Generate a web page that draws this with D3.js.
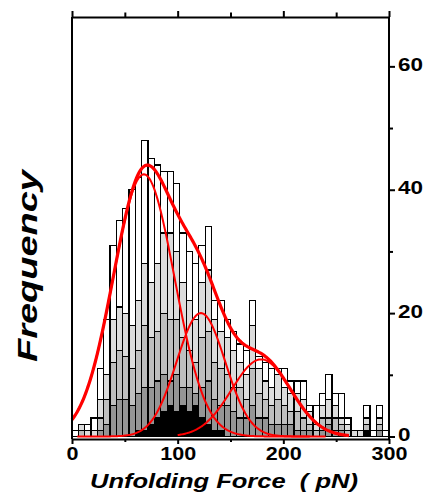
<!DOCTYPE html>
<html>
<head>
<meta charset="utf-8">
<script src="https://cdn.jsdelivr.net/npm/d3@7"></script>
<style>
  body { margin: 0; background: #fff; }
  svg { display: block; }
  .axis path, .axis line { stroke: #000; stroke-width: 2; }
  .axis text { font-family: "Liberation Sans", Arial, sans-serif; font-weight: bold; font-size: 18px; fill: #000; }
</style>
</head>
<body>
<script>
// chart data
var binWidth = 6;
var binLefts = [0, 6, 12, 18, 24, 30, 36, 42, 48, 54, 60, 66, 72, 78, 84, 90, 96, 102, 108, 114,
    120, 126, 132, 138, 144, 150, 156, 162, 168, 174, 180, 186, 192, 198, 204, 210, 216, 222, 228, 234,
    240, 246, 252, 258, 264, 270, 276, 282, 288, 294];

// overlaid histograms, drawn back to front
var totalCounts = [1, 2, 2, 3, 11, 19, 31, 35, 37, 40, 42, 48, 45, 44, 43, 43, 41, 33, 30, 28,
    31, 34, 22, 22, 19, 17, 15, 14, 22, 13, 12, 11, 11, 11, 9, 9, 9, 5, 5, 7,
    10, 7, 7, 3, 1, 1, 5, 1, 5, 1];
var lightCounts = [0, 2, 1, 1, 6, 10, 19, 21, 20, 18, 22, 28, 25, 28, 33, 33, 30, 25, 22, 19,
    25, 27, 19, 17, 16, 14, 12, 10, 18, 11, 9, 8, 10, 8, 7, 7, 6, 4, 2, 5,
    6, 5, 3, 2, 1, 1, 3, 0, 3, 0];
var midCounts = [0, 1, 0, 0, 3, 6, 12, 14, 13, 11, 14, 18, 16, 17, 20, 19, 19, 16, 14, 12,
    16, 17, 12, 11, 10, 8, 8, 6, 11, 7, 6, 5, 6, 5, 4, 4, 3, 2, 1, 3,
    3, 3, 2, 1, 0, 0, 2, 0, 2, 0];
var darkCounts = [0, 0, 0, 0, 1, 2, 5, 6, 6, 5, 7, 8, 8, 9, 10, 9, 10, 8, 8, 7,
    8, 9, 6, 5, 5, 4, 3, 3, 5, 3, 3, 2, 2, 2, 2, 1, 1, 1, 0, 1,
    2, 1, 1, 0, 0, 0, 1, 0, 1, 0];
var blackCounts = [0, 0, 0, 0, 0, 0, 0, 0, 0, 0, 1, 1, 2, 3, 4, 5, 4, 5, 4, 5,
    3, 2, 1, 1, 0, 0, 0, 0, 0, 0, 0, 0, 0, 0, 0, 0, 0, 0, 0, 0,
    0, 0, 0, 0, 0, 0, 1, 0, 0, 0];
var layerFills = ["#ffffff", "#dcdcdc", "#bebebe", "#959595", "#000000"];

// gaussian fit components: peak force, peak height, width
var fitMeans = [68, 122, 179];
var fitHeights = [42.5, 20, 12.5];
var fitWidths = [29, 23, 28];
var fitRanges = [[2, 225], [5, 240], [100, 262]];
var sumRange = [0, 262];

var xTicksMajor = [0, 100, 200, 300];
var xTicksMinor = [50, 150, 250];
var yTicksMajor = [0, 20, 40, 60];
var yTicksMinor = [10, 30, 50];

// set the dimensions and margins of the graph
var outerWidth = 425;
var outerHeight = 493;

var margin = {top: 17, right: 36, bottom: 56.5, left: 72},
    width = outerWidth - margin.left - margin.right,
    height = outerHeight - margin.top - margin.bottom;

var x = d3.scaleLinear()
    .domain([0, 300])
    .range([0, width]);

var y = d3.scaleLinear()
    .domain([0, 68])
    .range([height, 0]);

var svg = d3.select('body').append('svg')
    .attr("width", outerWidth)
    .attr("height", outerHeight)
    .append("g")
    .attr("transform", `translate(${margin.left},${margin.top})`);

// histogram layers
var layers = [totalCounts, lightCounts, midCounts, darkCounts, blackCounts];
layers.forEach(function(counts, li) {
    var rows = binLefts.map(function(b, i) { return {x0: b, v: counts[i]}; })
        .filter(function(d) { return d.v > 0; });
    svg.append("g")
      .selectAll("rect")
        .data(rows)
      .enter().append("rect")
        .attr("x", function(d) { return x(d.x0); })
        .attr("width", function(d) { return x(d.x0 + binWidth) - x(d.x0); })
        .attr("y", function(d) { return y(d.v); })
        .attr("height", function(d) { return height - y(d.v); })
        .attr("fill", layerFills[li])
        .attr("stroke", "#000")
        .attr("stroke-width", 1.2)
        .attr("shape-rendering", "crispEdges");
});

// fit curves
function gauss(k, f) {
    var dz = f - fitMeans[k];
    return fitHeights[k] * Math.exp(-dz * dz / (2 * fitWidths[k] * fitWidths[k]));
}

var line = d3.line()
    .x(function(d) { return x(d[0]); })
    .y(function(d) { return y(d[1]); });

fitMeans.forEach(function(m, k) {
    var pts = d3.range(fitRanges[k][0], fitRanges[k][1] + 0.5, 1).map(function(f) { return [f, gauss(k, f)]; });
    svg.append("path")
        .attr("d", line(pts))
        .attr("fill", "none")
        .attr("stroke", "#ff0000")
        .attr("stroke-width", 2);
});

var sumPts = d3.range(sumRange[0], sumRange[1] + 0.5, 1).map(function(f) {
    return [f, gauss(0, f) + gauss(1, f) + gauss(2, f)];
});
svg.append("path")
    .attr("d", line(sumPts))
    .attr("fill", "none")
    .attr("stroke", "#ff0000")
    .attr("stroke-width", 3.2);

// axes
var bottomY = height + 2.5;

svg.append("g")
    .attr("class", "axis")
    .attr("transform", "translate(0," + bottomY + ")")
    .call(d3.axisBottom(x).tickValues(xTicksMajor).tickSize(5).tickSizeOuter(0).tickPadding(3))
    .selectAll("text")
    .attr("textLength", function(d) { return String(d).length * 12; })
    .attr("lengthAdjust", "spacingAndGlyphs");

svg.append("g")
    .attr("class", "axis")
    .attr("transform", "translate(0," + bottomY + ")")
    .call(d3.axisBottom(x).tickValues(xTicksMinor).tickSize(3).tickSizeOuter(0).tickFormat(''))
    .select(".domain").remove();

svg.append("g")
    .attr("class", "axis")
    .call(d3.axisTop(x).tickValues(xTicksMajor).tickSize(6).tickSizeOuter(0).tickFormat(''));

svg.append("g")
    .attr("class", "axis")
    .call(d3.axisTop(x).tickValues(xTicksMinor).tickSize(4.5).tickSizeOuter(0).tickFormat(''))
    .select(".domain").remove();

var rightAxis = svg.append("g")
    .attr("class", "axis")
    .attr("transform", "translate(" + width + ",0)")
    .call(d3.axisRight(y).tickValues(yTicksMajor).tickSize(6).tickSizeOuter(0).tickPadding(3));
rightAxis.select(".domain").attr("d", "M0,0V" + bottomY);
rightAxis.selectAll("text")
    .attr("dy", "0.22em")
    .attr("textLength", function(d) { return String(d).length * 12.5; })
    .attr("lengthAdjust", "spacingAndGlyphs");

svg.append("g")
    .attr("class", "axis")
    .attr("transform", "translate(" + width + ",0)")
    .call(d3.axisRight(y).tickValues(yTicksMinor).tickSize(4).tickSizeOuter(0).tickFormat(''))
    .select(".domain").remove();

// left frame line, no ticks
svg.append("line")
    .attr("x1", 0).attr("x2", 0)
    .attr("y1", 0).attr("y2", bottomY)
    .attr("stroke", "#000")
    .attr("stroke-width", 2);

// axis titles
svg.append("text")
    .attr("x", 152)
    .attr("y", 471)
    .attr("text-anchor", "middle")
    .attr("textLength", 268)
    .attr("lengthAdjust", "spacingAndGlyphs")
    .style("font-family", '"Liberation Sans", Arial, sans-serif')
    .style("font-weight", "bold")
    .style("font-style", "italic")
    .style("font-size", "21px")
    .style("white-space", "pre")
    .text("Unfolding Force  ( pN)");

svg.append("text")
    .attr("transform", "translate(" + (-35) + "," + 249 + ") rotate(-90)")
    .attr("text-anchor", "middle")
    .attr("textLength", 192)
    .attr("lengthAdjust", "spacingAndGlyphs")
    .style("font-family", '"Liberation Sans", Arial, sans-serif')
    .style("font-weight", "bold")
    .style("font-style", "italic")
    .style("font-size", "28px")
    .text("Frequency");
</script>
</body>
</html>
